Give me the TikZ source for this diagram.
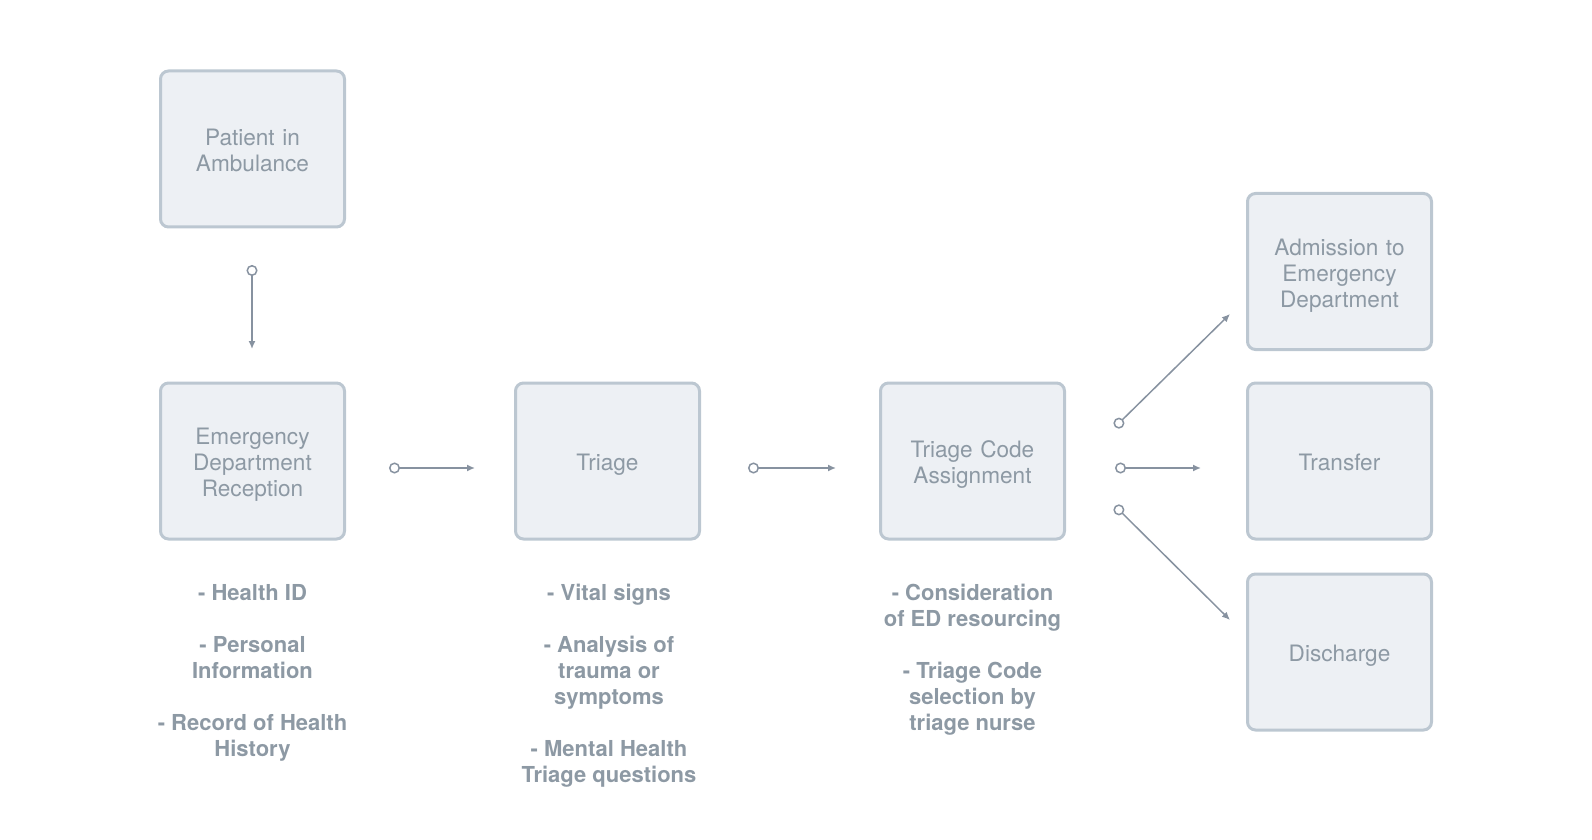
\documentclass[tikz,border=0pt]{standalone}
\usepackage{fontspec}
\setmainfont{TeX Gyre Heros}
\usetikzlibrary{arrows.meta}
\definecolor{boxline}{HTML}{BCC7D1}
\definecolor{boxfill}{HTML}{EDF0F4}
\definecolor{boxtext}{HTML}{8D99A4}
\definecolor{linkgray}{HTML}{8792A0}
\tikzset{
  stage/.style={draw=boxline, fill=boxfill, line width=1.5pt, rounded corners=4pt,
    minimum width=92pt, minimum height=78pt, text width=84pt, align=center,
    text=boxtext, font=\fontsize{11.3}{13}\selectfont,
    execute at begin node={\rule{0pt}{12.3pt}},
    execute at end node={\rule[-2.5pt]{0pt}{2.5pt}}},
  notes/.style={text=boxtext, align=center, anchor=north, inner sep=0pt,
    font=\bfseries\fontsize{11}{13}\selectfont},
  link/.style={draw=linkgray, line width=0.75pt,
    {Circle[open,length=5.5pt,line width=0.75pt]}-{Latex[length=4pt,width=3.5pt]}}
}
\begin{document}
\begin{tikzpicture}[x=0.5pt,y=-0.5pt]
  \useasboundingbox (0,0) rectangle (1592,840);
  \node[stage] (patient) at (252.5,149) {Patient in\\Ambulance};
  \node[stage] (reception) at (252.5,461) {Emergency\\Department\\Reception};
  \node[stage] (triage) at (607.5,461) {Triage};
  \node[stage] (code) at (972.5,461) {Triage Code\\Assignment};
  \node[stage] (admit) at (1339.5,271.5) {Admission to\\Emergency\\Department};
  \node[stage] (transfer) at (1339.5,461) {Transfer};
  \node[stage] (discharge) at (1339.5,652) {Discharge};

  \node[notes] (recnotes) at (252.5,584) {- Health ID\\[13pt]- Personal\\Information\\[13pt]- Record of Health\\History};
  \node[notes] (trinotes) at (609,584) {- Vital signs\\[13pt]- Analysis of\\trauma or\\symptoms\\[13pt]- Mental Health\\Triage questions};
  \node[notes] (codenotes) at (972.5,584) {- Consideration\\of ED resourcing\\[13pt]- Triage Code\\selection by\\triage nurse};

  \coordinate (a1) at (252,265); \coordinate (a2) at (252,349);
  \coordinate (b1) at (389,468); \coordinate (b2) at (475,468);
  \coordinate (c1) at (748,468); \coordinate (c2) at (836,468);
  \coordinate (d1) at (1115,427); \coordinate (d2) at (1230,314);
  \coordinate (e1) at (1115,468); \coordinate (e2) at (1201,468);
  \coordinate (f1) at (1115,506); \coordinate (f2) at (1230,620);
  \draw[link] (a1) -- (a2);
  \draw[link] (b1) -- (b2);
  \draw[link] (c1) -- (c2);
  \draw[link] (d1) -- (d2);
  \draw[link] (e1) -- (e2);
  \draw[link] (f1) -- (f2);
\end{tikzpicture}
\end{document}
